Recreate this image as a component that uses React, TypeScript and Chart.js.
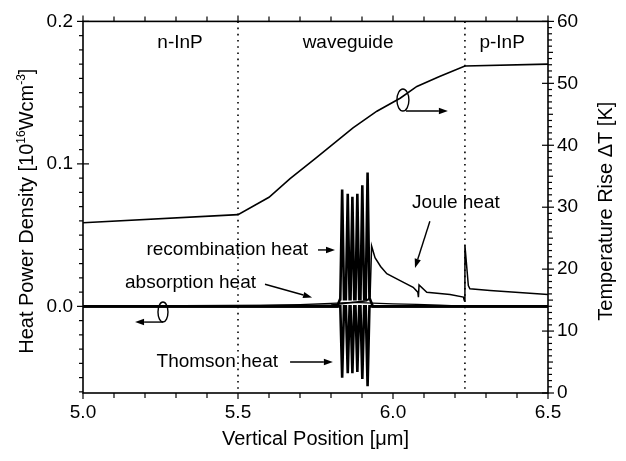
import React, { useEffect, useRef } from "react";
import { Chart, registerables } from "chart.js";

Chart.register(...registerables);

const FONT = '"Liberation Sans", Arial, Helvetica, sans-serif';

// ---- axes ----
const X_MIN = 5.0;
const X_MAX = 6.5;
const Y_LEFT_MIN = -0.0608;
const Y_LEFT_MAX = 0.2;
const Y_RIGHT_MIN = 0;
const Y_RIGHT_MAX = 60;
const xTickValues = [5.0, 5.5, 6.0, 6.5];
const leftTickValues = [0.0, 0.1, 0.2];
const rightTickValues = [0, 10, 20, 30, 40, 50, 60];
const regionBoundaries = [5.5, 6.232];

// ---- temperature rise (right axis, K) ----
const tempX = [5.0, 5.5, 5.6, 5.668, 5.75, 5.871, 5.948, 6.023, 6.077, 6.15, 6.232, 6.5];
const tempY = [27.5, 28.8, 31.6, 34.6, 37.9, 42.8, 45.5, 47.6, 49.5, 51.1, 52.8, 53.1];

// ---- absorption heat (left axis) ----
const absX = [5.0, 5.3, 5.571, 5.7, 5.819, 5.87, 5.935, 6.0, 6.077, 6.15, 6.226, 6.5];
const absY = [0, 0, 0.0005, 0.0012, 0.0023, 0.0028, 0.0023, 0.0018, 0.0014, 0.0008, 0.0002, 0];

// ---- Joule heat (left axis) ----
const jouleX = [5.0, 5.8, 5.915, 5.926, 5.931, 5.942, 5.96, 5.98, 6.023, 6.065, 6.08, 6.082, 6.084, 6.109, 6.184, 6.227, 6.23, 6.232, 6.243, 6.248, 6.313, 6.5];
const jouleY = [0, 0.001, 0.004, 0.0065, 0.0424, 0.0342, 0.028, 0.0229, 0.0181, 0.0134, 0.01, 0.0065, 0.0151, 0.0099, 0.0083, 0.0065, 0.0042, 0.0428, 0.0146, 0.0123, 0.0111, 0.0083];

// ---- recombination heat (left axis) ----
const recombX = [5.0, 5.82, 5.829, 5.83, 5.836, 5.842, 5.848, 5.854, 5.86, 5.863, 5.869, 5.875, 5.879, 5.885, 5.891, 5.895, 5.901, 5.907, 5.912, 5.918, 5.924, 5.926, 5.935, 6.5];
const recombY = [0, 0, 0.005, 0.005, 0.082, 0.005, 0.005, 0.079, 0.005, 0.005, 0.077, 0.005, 0.005, 0.079, 0.005, 0.005, 0.085, 0.005, 0.005, 0.094, 0.005, 0.005, 0, 0];

// ---- Thomson heat (left axis) ----
const thomsonX = [5.0, 5.83, 5.836, 5.842, 5.848, 5.854, 5.86, 5.863, 5.869, 5.875, 5.879, 5.885, 5.891, 5.895, 5.901, 5.907, 5.912, 5.918, 5.924, 6.5];
const thomsonY = [0, 0, -0.05, 0, 0, -0.047, 0, 0, -0.047, 0, 0, -0.046, 0, 0, -0.051, 0, 0, -0.056, 0, 0];

const zip = (xs: number[], ys: number[]) => xs.map((x, i) => ({ x, y: ys[i] }));

const font = (size: number) => `${size}px ${FONT}`;

function arrow(ctx: CanvasRenderingContext2D, x1: number, y1: number, x2: number, y2: number) {
  const ang = Math.atan2(y2 - y1, x2 - x1);
  const hl = 9, hw = 3.2;
  const bx = x2 - hl * Math.cos(ang), by = y2 - hl * Math.sin(ang);
  ctx.beginPath();
  ctx.moveTo(x1, y1);
  ctx.lineTo(bx, by);
  ctx.lineWidth = 1.4;
  ctx.stroke();
  ctx.beginPath();
  ctx.moveTo(x2, y2);
  ctx.lineTo(bx + hw * Math.sin(ang), by - hw * Math.cos(ang));
  ctx.lineTo(bx - hw * Math.sin(ang), by + hw * Math.cos(ang));
  ctx.closePath();
  ctx.fill();
}

const decor = {
  id: "decor",
  afterDatasetsDraw(chart: any) {
    const { ctx, chartArea: a, scales } = chart;
    const xs = scales.x, yl = scales.yL, yr = scales.yR;
    const px = (v: number) => xs.getPixelForValue(v);
    const pl = (v: number) => yl.getPixelForValue(v);
    const pr = (v: number) => yr.getPixelForValue(v);
    ctx.save();
    ctx.strokeStyle = "#000";
    ctx.fillStyle = "#000";

    // dotted region boundaries
    ctx.lineWidth = 1.6;
    ctx.setLineDash([1.6, 4.6]);
    for (const b of regionBoundaries) {
      const x = px(b);
      ctx.beginPath();
      ctx.moveTo(x, a.top);
      ctx.lineTo(x, a.bottom);
      ctx.stroke();
    }
    ctx.setLineDash([]);

    // frame
    ctx.lineWidth = 1.6;
    ctx.strokeRect(a.left, a.top, a.right - a.left, a.bottom - a.top);

    // ticks
    ctx.lineWidth = 1.2;
    const seg = (x1: number, y1: number, x2: number, y2: number) => {
      ctx.beginPath();
      ctx.moveTo(x1, y1);
      ctx.lineTo(x2, y2);
      ctx.stroke();
    };
    for (let i = 0; i <= 15; i++) {
      const v = X_MIN + i * 0.1;
      const x = px(v);
      const major = i % 5 === 0;
      seg(x, a.bottom, x, a.bottom + (major ? 6 : 5));
      seg(x, a.top, x, a.top - (major ? 6 : 5));
    }
    for (let i = -6; i <= 20; i++) {
      const v = i * 0.01;
      if (v < Y_LEFT_MIN - 1e-9) continue;
      const y = pl(v);
      const major = i % 10 === 0;
      if (major) seg(a.left - 6, y, a.left + 6, y);
      else seg(a.left - 4, y, a.left, y);
    }
    for (let i = 0; i <= 60; i++) {
      const y = pr(i);
      const major = i % 10 === 0;
      if (major) seg(a.right - 6, y, a.right + 6, y);
      else seg(a.right, y, a.right + (i % 5 === 0 ? 5 : 4), y);
    }

    // region labels
    ctx.font = font(19);
    ctx.textBaseline = "middle";
    ctx.textAlign = "center";
    ctx.fillText("n-InP", px(5.313), pl(0.185));
    ctx.fillText("waveguide", px(5.855), pl(0.185));
    ctx.fillText("p-InP", px(6.352), pl(0.185));

    // curve labels
    ctx.fillText("Joule heat", px(6.203), pl(0.073));
    arrow(ctx, px(6.119), pl(0.0597), px(6.071), pl(0.027));
    ctx.textAlign = "right";
    ctx.fillText("recombination heat", px(5.726), pl(0.04));
    arrow(ctx, px(5.758), pl(0.0396), px(5.813), pl(0.0396));
    ctx.fillText("absorption heat", px(5.558), pl(0.0165));
    arrow(ctx, px(5.587), pl(0.0155), px(5.739), pl(0.0063));
    ctx.fillText("Thomson heat", px(5.629), pl(-0.039));
    arrow(ctx, px(5.668), pl(-0.039), px(5.806), pl(-0.039));

    // axis-indicator ellipses
    ctx.lineWidth = 1.4;
    const ecx = px(5.258), ecy = pl(-0.004);
    ctx.beginPath();
    ctx.ellipse(ecx, ecy, 5, 10, 0, 0, Math.PI * 2);
    ctx.stroke();
    arrow(ctx, ecx, ecy + 10, px(5.168), ecy + 10);
    const rcx = px(6.032), rcy = pr(47.3);
    ctx.beginPath();
    ctx.ellipse(rcx, rcy, 6, 11, 0, 0, Math.PI * 2);
    ctx.stroke();
    arrow(ctx, rcx + 3, rcy + 11, px(6.177), rcy + 11);

    // left axis title with superscripts
    const midY = (a.top + a.bottom) / 2 + 4;
    ctx.save();
    ctx.translate(26, midY);
    ctx.rotate(-Math.PI / 2);
    ctx.textAlign = "left";
    ctx.textBaseline = "alphabetic";
    const parts: [string, number, number][] = [
      ["Heat Power Density [10", 20, 0],
      ["16", 12, -8],
      ["Wcm", 20, 0],
      ["-3", 12, -8],
      ["]", 20, 0],
    ];
    let total = 0;
    for (const [t, s] of parts) {
      ctx.font = font(s);
      total += ctx.measureText(t).width;
    }
    let cx = -total / 2;
    for (const [t, s, dy] of parts) {
      ctx.font = font(s);
      ctx.fillText(t, cx, 7 + dy);
      cx += ctx.measureText(t).width;
    }
    ctx.restore();

    // right axis title (reads bottom to top)
    ctx.save();
    ctx.translate(606, midY);
    ctx.rotate(-Math.PI / 2);
    ctx.textAlign = "center";
    ctx.textBaseline = "middle";
    ctx.font = font(20);
    ctx.fillText("Temperature Rise \u0394T [K]", 0, 0);
    ctx.restore();

    ctx.restore();
  },
};

export default function App() {
  const ref = useRef<HTMLCanvasElement | null>(null);
  useEffect(() => {
    if (!ref.current) return;
    const tickFont = { family: FONT, size: 19 };
    const line = (label: string, xs: number[], ys: number[], axis: string, w: number) => ({
      label,
      data: zip(xs, ys),
      yAxisID: axis,
      borderColor: "#000",
      backgroundColor: "#000",
      borderWidth: w,
      pointRadius: 0,
      tension: 0,
      fill: false,
    });
    const chart = new Chart(ref.current, {
      type: "line",
      data: {
        datasets: [
          line("Temperature Rise", tempX, tempY, "yR", 1.6),
          line("absorption heat", absX, absY, "yL", 1.3),
          line("Joule heat", jouleX, jouleY, "yL", 1.5),
          line("recombination heat", recombX, recombY, "yL", 2.6),
          line("Thomson heat", thomsonX, thomsonY, "yL", 2.6),
        ] as any,
      },
      options: {
        responsive: false,
        animation: false,
        layout: { padding: { top: 20, left: 0, right: 0, bottom: 0 } },
        plugins: { legend: { display: false }, tooltip: { enabled: false } },
        scales: {
          x: {
            type: "linear",
            position: "bottom",
            min: X_MIN,
            max: X_MAX,
            afterBuildTicks: (s: any) => {
              s.ticks = xTickValues.map((v) => ({ value: v }));
            },
            afterFit: (s: any) => {
              s.height = 68;
            },
            ticks: {
              callback: (v: any) => Number(v).toFixed(1),
              font: tickFont,
              color: "#000",
              padding: 8,
              maxRotation: 0,
              autoSkip: false,
            },
            grid: { display: false, drawTicks: false },
            border: { display: false },
            title: {
              display: true,
              text: "Vertical Position [\u03bcm]",
              font: { family: FONT, size: 20 },
              color: "#000",
              padding: { top: 0, bottom: 10 },
            },
          },
          yL: {
            type: "linear",
            position: "left",
            min: Y_LEFT_MIN,
            max: Y_LEFT_MAX,
            afterBuildTicks: (s: any) => {
              s.ticks = leftTickValues.map((v) => ({ value: v }));
            },
            afterFit: (s: any) => {
              s.width = 83;
            },
            ticks: {
              callback: (v: any) => Number(v).toFixed(1),
              font: tickFont,
              color: "#000",
              padding: 10,
            },
            grid: { display: false, drawTicks: false },
            border: { display: false },
          },
          yR: {
            type: "linear",
            position: "right",
            min: Y_RIGHT_MIN,
            max: Y_RIGHT_MAX,
            afterBuildTicks: (s: any) => {
              s.ticks = rightTickValues.map((v) => ({ value: v }));
            },
            afterFit: (s: any) => {
              s.width = 78;
            },
            ticks: {
              callback: (v: any) => String(v),
              font: tickFont,
              color: "#000",
              padding: 9,
            },
            grid: { display: false, drawTicks: false },
            border: { display: false },
          },
        },
      } as any,
      plugins: [decor],
    });
    return () => chart.destroy();
  }, []);
  return (
    <div style={{ position: "absolute", left: 0, top: 0, width: 626, height: 461, background: "#fff" }}>
      <canvas ref={ref} width={626} height={461} style={{ display: "block" }} />
    </div>
  );
}
